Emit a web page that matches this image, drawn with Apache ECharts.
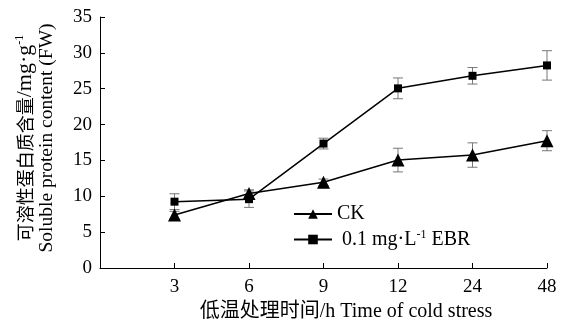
<!DOCTYPE html>
<html><head><meta charset="utf-8">
<script src="https://cdn.jsdelivr.net/npm/echarts@6/dist/echarts.min.js"></script>
<style>html,body{margin:0;padding:0;background:#fff}#c{width:561px;height:323px}</style>
</head><body><div id="c"></div>
<script>
var times = ['3','6','9','12','24','48'];
var ckValues = [7.4, 10.4, 11.95, 15.05, 15.75, 17.75];
var ckErrors = [0.5, 0.5, 0.45, 1.65, 1.7, 1.4];
var ebrValues = [9.25, 9.6, 17.35, 25.05, 26.8, 28.25];
var ebrErrors = [1.1, 1.15, 0.75, 1.45, 1.15, 2.05];
var yTicks = [0,5,10,15,20,25,30,35];

var FONT = '"Liberation Serif", "Noto Sans CJK SC", serif';
function pts(vals){ return vals.map(function(v,i){ return [i+1, v]; }); }
function errData(vals, errs){ return vals.map(function(v,i){ return [i+1, v-errs[i], v+errs[i]]; }); }
function errRender(params, api){
  var x = api.value(0), lo = api.coord([x, api.value(1)]), hi = api.coord([x, api.value(2)]);
  var w = 5;
  var st = {stroke:'#777', lineWidth:1};
  return {type:'group', children:[
    {type:'line', shape:{x1:lo[0],y1:lo[1],x2:hi[0],y2:hi[1]}, style:st},
    {type:'line', shape:{x1:lo[0]-w,y1:lo[1],x2:lo[0]+w,y2:lo[1]}, style:st},
    {type:'line', shape:{x1:hi[0]-w,y1:hi[1],x2:hi[0]+w,y2:hi[1]}, style:st}
  ]};
}
var chart = echarts.init(document.getElementById('c'));
chart.setOption({
  animation:false,
  backgroundColor:'#fff',
  grid:{left:100, right:14, top:17, bottom:55, outerBoundsMode:'none', containLabel:false},
  xAxis:{type:'value', min:0, max:6, interval:1,
    axisLine:{lineStyle:{color:'#000', width:1}},
    axisTick:{inside:true, length:5, lineStyle:{color:'#000'}},
    splitLine:{show:false},
    axisLabel:{color:'#000', fontFamily:FONT, fontSize:19, margin:10,
      formatter:function(v){ return v>=1 ? times[v-1] : ''; }},
    name:'低温处理时间/h Time of cold stress', nameLocation:'middle', nameGap:33,
    nameTextStyle:{color:'#000', fontFamily:FONT, fontSize:20, padding:[0,0,0,45]}
  },
  yAxis:{type:'value', min:0, max:35, interval:5,
    axisLine:{show:true, lineStyle:{color:'#000', width:1}},
    axisTick:{show:true, inside:true, length:5, lineStyle:{color:'#000'}},
    splitLine:{show:false},
    axisLabel:{color:'#000', fontFamily:FONT, fontSize:19, margin:8,
      formatter:function(v){ return yTicks.indexOf(v)>=0 ? String(v) : ''; }}
  },
  legend:{left:288, top:199, orient:'vertical', itemGap:5, itemWidth:38, itemHeight:12,
    textStyle:{color:'#000', fontFamily:FONT, fontSize:20,
      rich:{n:{fontFamily:FONT, fontSize:20, color:'#000'}, s:{fontFamily:FONT, fontSize:12, color:'#000', verticalAlign:'top', padding:[0,0,9,0]}}},
    formatter:function(name){ return name==='CK' ? '{n|CK}' : '{n| 0.1 mg·L}{s|-1}{n| EBR}'; },
    data:['CK','0.1 mg·L-1 EBR']
  },
  graphic:[
    {type:'text', x:25, y:138, rotation:Math.PI/2, style:{
      text:'{n|可溶性蛋白质含量}{m|/mg·g}{s|-1}', align:'center', verticalAlign:'middle',
      rich:{n:{fontFamily:'"Noto Sans CJK SC", sans-serif', fontSize:18, fill:'#000'},
            m:{fontFamily:FONT, fontSize:22, fill:'#000'},
            s:{fontFamily:FONT, fontSize:12, fill:'#000', verticalAlign:'top', padding:[0,0,10,0]}}
    }},
    {type:'text', x:47, y:138, rotation:Math.PI/2, style:{
      text:'Soluble protein content (FW)', align:'center', verticalAlign:'middle',
      font:'19.5px ' + FONT, fill:'#000'
    }}
  ],
  series:[
    {type:'custom', name:'ckErr', renderItem:errRender, data:errData(ckValues, ckErrors), z:1, silent:true},
    {type:'custom', name:'ebrErr', renderItem:errRender, data:errData(ebrValues, ebrErrors), z:1, silent:true},
    {type:'line', name:'CK', data:pts(ckValues), symbol:'triangle', symbolSize:13,
      itemStyle:{color:'#000'}, lineStyle:{color:'#000', width:1.5}, z:3},
    {type:'line', name:'0.1 mg·L-1 EBR', data:pts(ebrValues), symbol:'rect', symbolSize:8,
      itemStyle:{color:'#000'}, lineStyle:{color:'#000', width:1.5}, z:3}
  ]
});
</script></body></html>
